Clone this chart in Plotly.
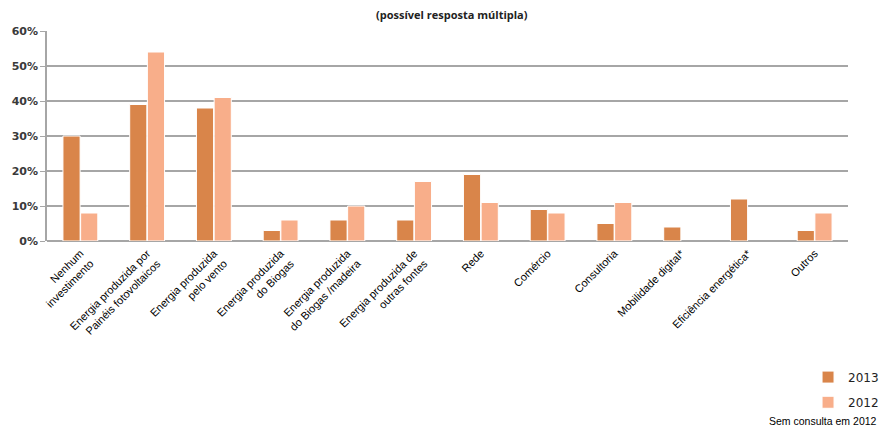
import plotly.graph_objects as go

# Survey answers (multiple answers possible), share of respondents in %
categories = [
    "Nenhum<br>investimento",
    "Energia produzida por<br>Painéis fotovoltaicos",
    "Energia produzida<br>pelo vento",
    "Energia produzida<br>do Biogas",
    "Energia produzida<br>do Biogas /madeira",
    "Energia produzida de<br>outras fontes",
    "Rede",
    "Comércio",
    "Consultoria",
    "Mobilidade digital*",
    "Eficiência energética*",
    "Outros",
]
values_2013 = [30, 39, 38, 3, 6, 6, 19, 9, 5, 4, 12, 3]
values_2012 = [8, 54, 41, 6, 10, 17, 11, 8, 11, None, None, 8]
y_ticks = [0, 10, 20, 30, 40, 50, 60]
y_tick_labels = ["<b>0%</b>", "<b>10%</b>", "<b>20%</b>", "<b>30%</b>",
                 "<b>40%</b>", "<b>50%</b>", "<b>60%</b>"]

color_2013 = "#D9854A"
color_2012 = "#F8AE8A"

fig = go.Figure()
fig.add_trace(go.Bar(
    name="2013", x=categories, y=values_2013,
    marker=dict(color=color_2013, line=dict(color="white", width=1)),
    legend="legend",
))
fig.add_trace(go.Bar(
    name="2012", x=categories, y=values_2012,
    marker=dict(color=color_2012, line=dict(color="white", width=1)),
    legend="legend2",
))

legend_common = dict(
    xref="paper", yref="paper", xanchor="right", yanchor="middle",
    bgcolor="rgba(0,0,0,0)", borderwidth=0,
    font=dict(family="DejaVu Sans", size=12, color="#222222"),
    itemwidth=30, tracegroupgap=0,
)

fig.update_layout(
    width=883, height=427,
    margin=dict(l=47, r=35, t=31, b=186, autoexpand=False),
    paper_bgcolor="white", plot_bgcolor="white",
    barmode="group", bargap=0.47, bargroupgap=0.03,
    showlegend=True,
    legend=dict(x=1.045, y=-0.648, **legend_common),
    legend2=dict(x=1.045, y=-0.768, **legend_common),
    xaxis=dict(
        tickangle=-45,
        tickfont=dict(family="Liberation Sans", size=11, color="#000000"),
        showgrid=False, showline=False, ticks="",
        ticklabelstandoff=3,
    ),
    yaxis=dict(
        range=[0, 60], tickvals=y_ticks, ticktext=y_tick_labels,
        tickfont=dict(family="DejaVu Sans", size=11, color="#3a3a3a"),
        showgrid=True, gridcolor="#A6A6A6", gridwidth=1.5,
        zeroline=True, zerolinecolor="#A6A6A6", zerolinewidth=1.5,
        showline=True, linecolor="#A6A6A6", linewidth=1.5,
        ticks="outside", ticklen=5, tickcolor="#A6A6A6",
    ),
    annotations=[
        dict(text="<b>(possível resposta múltipla)</b>", xref="paper", yref="paper",
             x=0.506, y=1.0, yshift=17, xanchor="center", yanchor="middle",
             showarrow=False, font=dict(family="Open Sans", size=11, color="#222222")),
        dict(text="Sem consulta em 2012", xref="paper", yref="paper",
             x=1.039, y=-0.857, xanchor="right", yanchor="middle",
             showarrow=False, font=dict(family="Liberation Sans", size=10.5, color="#000000")),
    ],
)

fig.write_html("out.html")
